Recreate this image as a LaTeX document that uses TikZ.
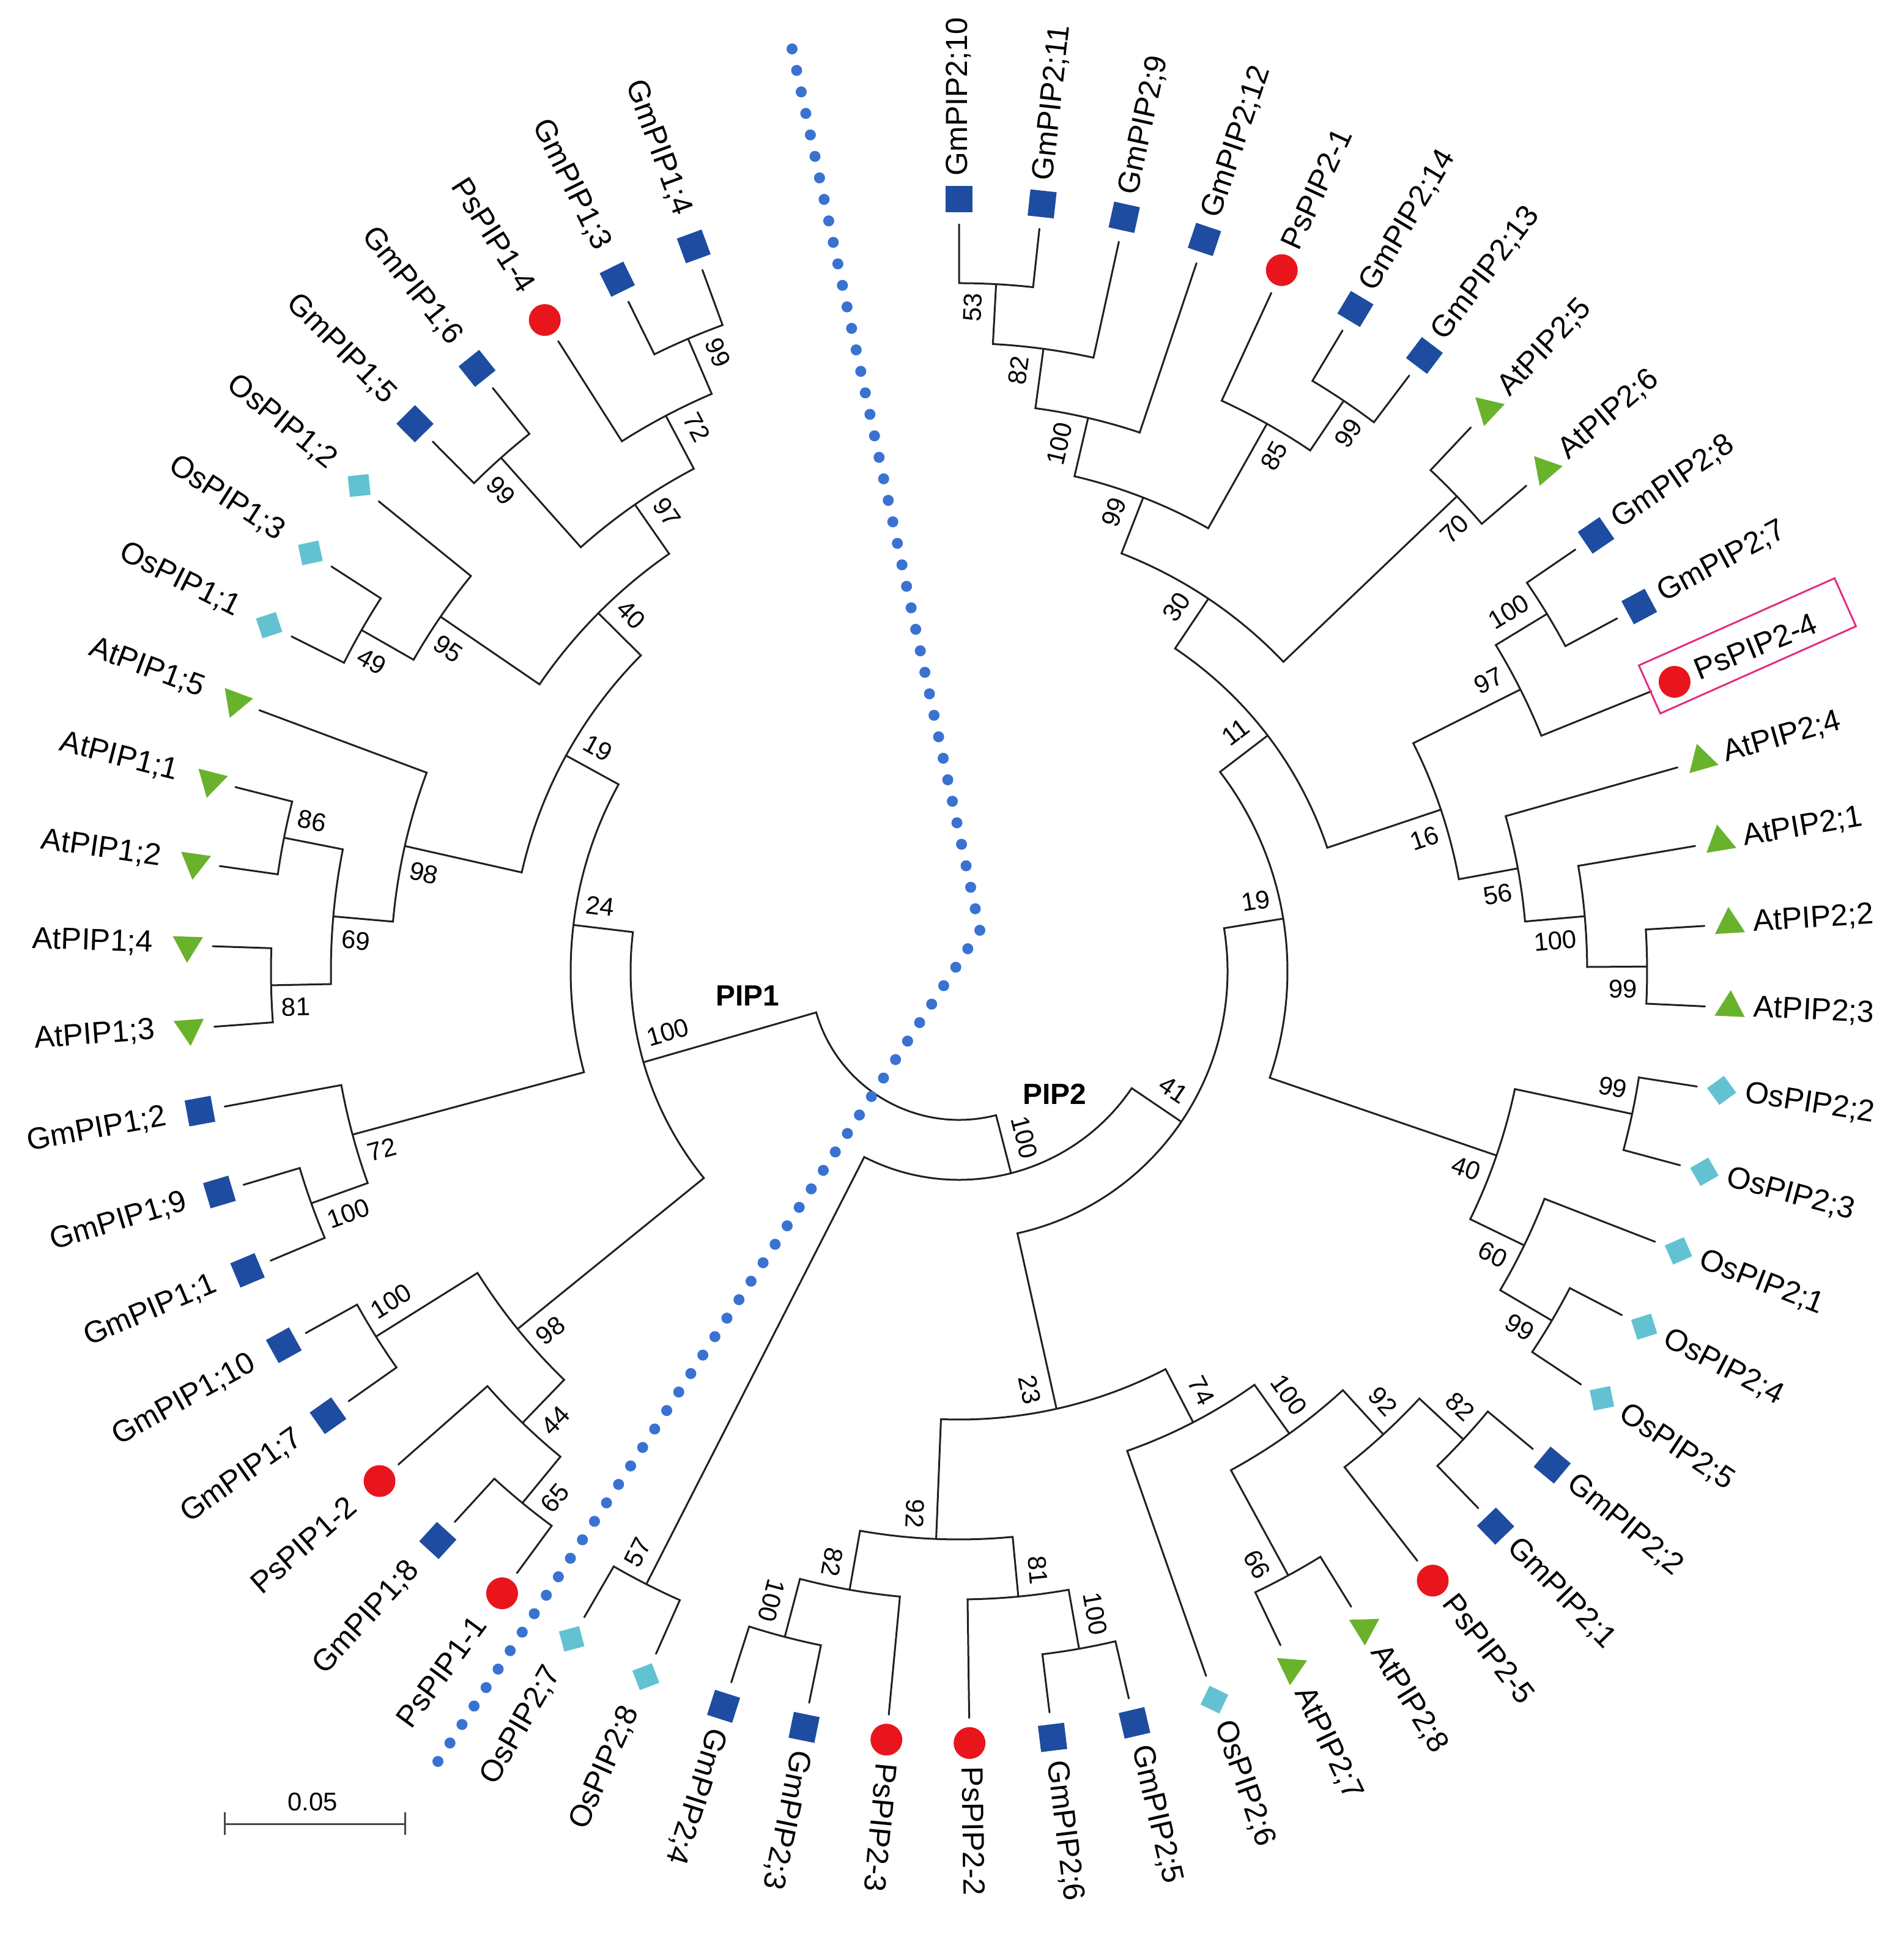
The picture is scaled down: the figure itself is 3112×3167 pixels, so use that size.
\documentclass[tikz,border=0pt]{standalone}
\usepackage{fontspec}
\setmainfont{Liberation Sans}
\usetikzlibrary{shapes.geometric,calc}
\definecolor{gmblue}{RGB}{30,76,160}
\definecolor{oscyan}{RGB}{98,194,210}
\definecolor{atgreen}{RGB}{104,178,44}
\definecolor{psred}{RGB}{232,22,28}
\definecolor{dotblue}{RGB}{58,114,210}
\definecolor{boxpink}{RGB}{228,45,128}
\definecolor{treeline}{RGB}{35,31,32}

\tikzset{
 treebr/.style={draw=treeline, line width=0.03cm, line cap=round, line join=miter},
 mkGm/.style={rectangle, fill=gmblue, minimum size=0.43cm, inner sep=0pt},
 mkOs/.style={rectangle, fill=oscyan, minimum size=0.34cm, inner sep=0pt, rotate=45},
 mkAt/.style={regular polygon, regular polygon sides=3, fill=atgreen, minimum size=0.57cm, inner sep=0pt},
 mkPs/.style={circle, fill=psred, minimum size=0.52cm, inner sep=0pt},
 leaflab/.style={font=\fontsize{14.2pt}{17pt}\selectfont, inner sep=0pt, text height=10.2pt, text depth=2.8pt},
 bslab/.style={font=\fontsize{11.9pt}{14pt}\selectfont, inner sep=0pt},
 cladelab/.style={font=\fontsize{13.6pt}{16pt}\selectfont\bfseries, inner sep=0pt},
 scalebar/.style={draw=black!72, line width=0.03cm},
}

% leaf: #1 id, #2 index, #3 marker style, #4 text
\newcommand\Leaf[4]{%
  \pgfmathsetmacro\tL{90-6.18*#2}%
  \expandafter\xdef\csname ang@#1\endcsname{\tL}%
  \expandafter\xdef\csname rad@#1\endcsname{1221}%
  \node[#3, rotate=\tL] (#1) at (\tL:1262) {};%
  \ifnum#2<33
    \node[leaflab, anchor=west, rotate=\tL] (#1t) at (\tL:1300) {#4};%
  \else
    \node[leaflab, anchor=east, rotate=\tL+180] (#1t) at (\tL:1318) {#4};%
  \fi}

% bootstrap label of node #1, side #2 (+1 ccw, -1 cw)
\newcommand\Blab[2]{%
  \expandafter\ifx\csname lab@#1\endcsname\relax\else
    \edef\qA{\csname ang@#1\endcsname}%
    \edef\qR{\csname rad@#1\endcsname}%
    \edef\qT{\csname lab@#1\endcsname}%
    \pgfmathsetmacro\qP{\qR-16}%
    \pgfmathsetmacro\qO{\qA+90*#2}%
    \ifdim\qA pt>-111pt
      \node[bslab, anchor=east, rotate=\qA] (#1b) at ($(\qA:\qP)+(\qO:36)$) {\qT};%
    \else
      \node[bslab, anchor=west, rotate=\qA+180] (#1b) at ($(\qA:\qP)+(\qO:36)$) {\qT};%
    \fi
  \fi}

% internal node: #1 id, #2 level, #3 ccw child, #4 cw child, #5 label
\newcommand\Inode[5]{%
  \edef\tA{\csname ang@#3\endcsname}%
  \edef\tB{\csname ang@#4\endcsname}%
  \edef\tRA{\csname rad@#3\endcsname}%
  \edef\tRB{\csname rad@#4\endcsname}%
  \pgfmathsetmacro\tN{(\tA+\tB)/2}%
  \pgfmathsetmacro\tR{243+98*#2}%
  \expandafter\xdef\csname ang@#1\endcsname{\tN}%
  \expandafter\xdef\csname rad@#1\endcsname{\tR}%
  \expandafter\xdef\csname lab@#1\endcsname{#5}%
  \coordinate (#1) at (\tN:\tR);%
  \draw[treebr] (\tA:\tRA) -- (\tA:\tR) arc[start angle=\tA, end angle=\tB, radius=\tR*0.01cm] -- (\tB:\tRB);%
  \Blab{#3}{1}\Blab{#4}{-1}}

\begin{document}
\begin{tikzpicture}[x=0.01cm, y=0.01cm]
\useasboundingbox (-1568,-1579) rectangle (1544,1588);

% ---- leaves ----
\Leaf{L0}{0}{mkGm}{GmPIP2;10}
\Leaf{L1}{1}{mkGm}{GmPIP2;11}
\Leaf{L2}{2}{mkGm}{GmPIP2;9}
\Leaf{L3}{3}{mkGm}{GmPIP2;12}
\Leaf{L4}{4}{mkPs}{PsPIP2-1}
\Leaf{L5}{5}{mkGm}{GmPIP2;14}
\Leaf{L6}{6}{mkGm}{GmPIP2;13}
\Leaf{L7}{7}{mkAt}{AtPIP2;5}
\Leaf{L8}{8}{mkAt}{AtPIP2;6}
\Leaf{L9}{9}{mkGm}{GmPIP2;8}
\Leaf{L10}{10}{mkGm}{GmPIP2;7}
\Leaf{L11}{11}{mkPs}{PsPIP2-4}
\Leaf{L12}{12}{mkAt}{AtPIP2;4}
\Leaf{L13}{13}{mkAt}{AtPIP2;1}
\Leaf{L14}{14}{mkAt}{AtPIP2;2}
\Leaf{L15}{15}{mkAt}{AtPIP2;3}
\Leaf{L16}{16}{mkOs}{OsPIP2;2}
\Leaf{L17}{17}{mkOs}{OsPIP2;3}
\Leaf{L18}{18}{mkOs}{OsPIP2;1}
\Leaf{L19}{19}{mkOs}{OsPIP2;4}
\Leaf{L20}{20}{mkOs}{OsPIP2;5}
\Leaf{L21}{21}{mkGm}{GmPIP2;2}
\Leaf{L22}{22}{mkGm}{GmPIP2;1}
\Leaf{L23}{23}{mkPs}{PsPIP2-5}
\Leaf{L24}{24}{mkAt}{AtPIP2;8}
\Leaf{L25}{25}{mkAt}{AtPIP2;7}
\Leaf{L26}{26}{mkOs}{OsPIP2;6}
\Leaf{L27}{27}{mkGm}{GmPIP2;5}
\Leaf{L28}{28}{mkGm}{GmPIP2;6}
\Leaf{L29}{29}{mkPs}{PsPIP2-2}
\Leaf{L30}{30}{mkPs}{PsPIP2-3}
\Leaf{L31}{31}{mkGm}{GmPIP2;3}
\Leaf{L32}{32}{mkGm}{GmPIP2;4}
\Leaf{L33}{33}{mkOs}{OsPIP2;8}
\Leaf{L34}{34}{mkOs}{OsPIP2;7}
\Leaf{L35}{35}{mkPs}{PsPIP1-1}
\Leaf{L36}{36}{mkGm}{GmPIP1;8}
\Leaf{L37}{37}{mkPs}{PsPIP1-2}
\Leaf{L38}{38}{mkGm}{GmPIP1;7}
\Leaf{L39}{39}{mkGm}{GmPIP1;10}
\Leaf{L40}{40}{mkGm}{GmPIP1;1}
\Leaf{L41}{41}{mkGm}{GmPIP1;9}
\Leaf{L42}{42}{mkGm}{GmPIP1;2}
\Leaf{L43}{43}{mkAt}{AtPIP1;3}
\Leaf{L44}{44}{mkAt}{AtPIP1;4}
\Leaf{L45}{45}{mkAt}{AtPIP1;2}
\Leaf{L46}{46}{mkAt}{AtPIP1;1}
\Leaf{L47}{47}{mkAt}{AtPIP1;5}
\Leaf{L48}{48}{mkOs}{OsPIP1;1}
\Leaf{L49}{49}{mkOs}{OsPIP1;3}
\Leaf{L50}{50}{mkOs}{OsPIP1;2}
\Leaf{L51}{51}{mkGm}{GmPIP1;5}
\Leaf{L52}{52}{mkGm}{GmPIP1;6}
\Leaf{L53}{53}{mkPs}{PsPIP1-4}
\Leaf{L54}{54}{mkGm}{GmPIP1;3}
\Leaf{L55}{55}{mkGm}{GmPIP1;4}

% ---- PIP2 clade ----
\Inode{N53}{9}{L0}{L1}{53}
\Inode{N82c}{8}{N53}{L2}{82}
\Inode{N100f}{7}{N82c}{L3}{100}
\Inode{N99e}{9}{L5}{L6}{99}
\Inode{N85}{8}{L4}{N99e}{85}
\Inode{N99d}{6}{N100f}{N85}{99}
\Inode{N70}{9}{L7}{L8}{70}
\Inode{N30}{5}{N99d}{N70}{30}
\Inode{N100d}{9}{L9}{L10}{100}
\Inode{N97}{8}{N100d}{L11}{97}
\Inode{N99c}{9}{L14}{L15}{99}
\Inode{N100e}{8}{L13}{N99c}{100}
\Inode{N56}{7}{L12}{N100e}{56}
\Inode{N16}{6}{N97}{N56}{16}
\Inode{N11}{4}{N30}{N16}{11}
\Inode{N99b}{9}{L16}{L17}{99}
\Inode{N99a}{9}{L19}{L20}{99}
\Inode{N60}{8}{L18}{N99a}{60}
\Inode{N40}{7}{N99b}{N60}{40}
\Inode{N19r}{3}{N11}{N40}{19}
\Inode{N82b}{9}{L21}{L22}{82}
\Inode{N92b}{8}{N82b}{L23}{92}
\Inode{N66}{9}{L24}{L25}{66}
\Inode{N100c}{7}{N92b}{N66}{100}
\Inode{N74}{6}{N100c}{L26}{74}
\Inode{N100b}{9}{L27}{L28}{100}
\Inode{N81}{8}{N100b}{L29}{81}
\Inode{N100a}{9}{L31}{L32}{100}
\Inode{N82a}{8}{L30}{N100a}{82}
\Inode{N92a}{7}{N81}{N82a}{92}
\Inode{N23}{5}{N74}{N92a}{23}
\Inode{N41}{2}{N19r}{N23}{41}
\Inode{N57}{9}{L33}{L34}{57}
\Inode{PIP2}{1}{N41}{N57}{100}

% ---- PIP1 clade ----
\Inode{N65}{9}{L35}{L36}{65}
\Inode{N44}{8}{N65}{L37}{44}
\Inode{N100h}{9}{L38}{L39}{100}
\Inode{N98b}{7}{N44}{N100h}{98}
\Inode{N100g}{9}{L40}{L41}{100}
\Inode{N72}{8}{N100g}{L42}{72}
\Inode{N81l}{9}{L43}{L44}{81}
\Inode{N86}{9}{L45}{L46}{86}
\Inode{N69}{8}{N81l}{N86}{69}
\Inode{N98a}{7}{N69}{L47}{98}
\Inode{N49}{9}{L48}{L49}{49}
\Inode{N95}{8}{N49}{L50}{95}
\Inode{N99l2}{9}{L51}{L52}{99}
\Inode{N99l1}{9}{L54}{L55}{99}
\Inode{N72l}{8}{L53}{N99l1}{72}
\Inode{N97l}{7}{N99l2}{N72l}{97}
\Inode{N40l}{6}{N95}{N97l}{40}
\Inode{N19l}{5}{N98a}{N40l}{19}
\Inode{N24}{4}{N72}{N19l}{24}
\Inode{PIP1}{3}{N98b}{N24}{100}

% ---- root ----
\Inode{Root}{0}{PIP2}{PIP1}{}

% clade names
\node[cladelab] (pip1lab) at (-346,-40) {PIP1};
\node[cladelab] (pip2lab) at (156,-201) {PIP2};

% highlight box
\node[draw=boxpink, line width=0.03cm, minimum width=3.50cm, minimum height=0.86cm, inner sep=0pt, rotate=24] (hlbox) at (1289,532) {};

% dotted separator
\coordinate (dA) at (-273,1508);
\coordinate (dB) at (34,67);
\coordinate (dC) at (-852,-1292);
\foreach \i in {0,...,41} \fill[dotblue] ($(dA)!\i/41!(dB)$) circle[radius=0.09cm];
\foreach \i in {1,...,45} \fill[dotblue] ($(dB)!\i/45!(dC)$) circle[radius=0.09cm];

% scale bar
\coordinate (sbL) at (-1200,-1394.5);
\coordinate (sbR) at (-905,-1394.5);
\draw[scalebar] (sbL) -- (sbR);
\draw[scalebar] ($(sbL)+(0,20)$) -- ($(sbL)+(0,-17)$);
\draw[scalebar] ($(sbR)+(0,20)$) -- ($(sbR)+(0,-17)$);
\node[bslab] (sblab) at (-1057,-1358) {0.05};
\end{tikzpicture}
\end{document}
